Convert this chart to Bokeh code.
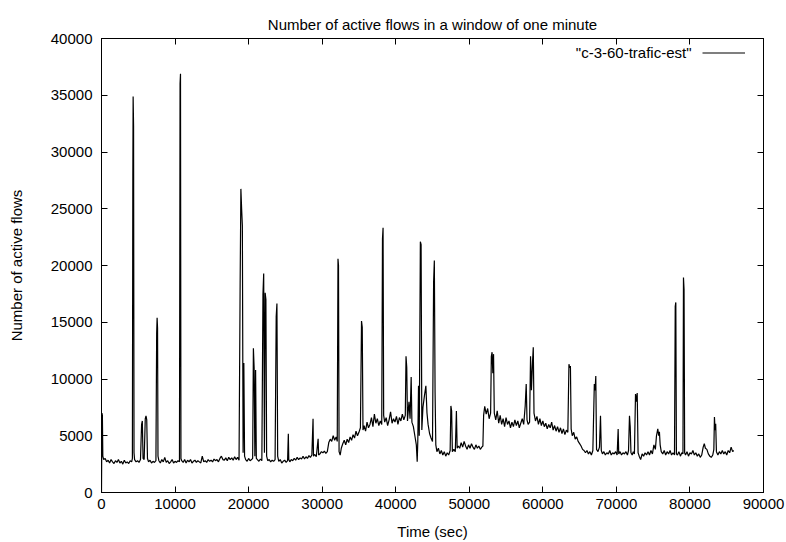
from bokeh.plotting import figure
from bokeh.models import (Range1d, LinearAxis, FixedTicker, NumeralTickFormatter,
                          Label, Legend, LegendItem, CustomLabelingPolicy)
from bokeh.embed import file_html
from bokeh.resources import INLINE

TITLE = "Number of active flows in a window of one minute"
X_LABEL = "Time (sec)"
Y_LABEL = "Number of active flows"
SERIES_NAME = '"c-3-60-trafic-est"'

x_ticks = [0, 10000, 20000, 30000, 40000, 50000, 60000, 70000, 80000, 90000]
y_ticks = [0, 5000, 10000, 15000, 20000, 25000, 30000, 35000, 40000]

time_sec = [
    0, 60, 120, 180, 300, 500, 700, 900, 1100, 1300, 1500, 1700, 1900, 2100, 2300, 2500, 2700, 2900, 3100, 3300, 3500, 3700, 3900, 4100,
    4200, 4260, 4300, 4360, 4420, 4500, 4700, 4900, 5100, 5300,
    5450, 5550, 5650, 5800, 5950, 6050, 6150, 6250, 6400, 6600, 6800, 7000, 7200, 7400,
    7500, 7560, 7620, 7680, 7800, 8000, 8200, 8400, 8600, 8800, 9000, 9200, 9400, 9600, 9800, 10000, 10200, 10400, 10600,
    10680, 10740, 10800, 10900, 11100, 11300, 11500, 11700, 11900, 12100, 12300, 12500, 12700, 12900, 13100, 13300, 13500, 13700, 13900, 14100, 14300, 14500, 14700, 14900, 15100, 15300, 15500, 15700, 15900, 16100, 16300, 16500, 16700, 16900, 17100, 17300, 17500, 17700, 17900, 18100, 18300, 18500, 18700,
    18850, 18950, 19050, 19150, 19250, 19350, 19450, 19600, 19800, 20000, 20200, 20400, 20550,
    20650, 20750, 20850, 20950, 21050, 21200, 21400, 21600, 21800,
    21950, 22050, 22150, 22250, 22350, 22450, 22600, 22800, 23000, 23200, 23400, 23600,
    23750, 23850, 23950, 24100, 24300, 24500, 24700, 24900, 25100, 25300, 25400, 25460, 25600, 25800, 26000, 26200, 26400, 26600, 26800, 27000, 27200, 27400, 27600, 27800, 28000, 28200, 28400, 28600, 28760, 28820, 29000, 29200, 29450, 29520, 29700, 29900, 30100, 30300, 30500, 30700, 30900, 31100, 31300, 31500, 31700, 31900, 32050,
    32150, 32220, 32300, 32450, 32600, 32800, 33000, 33200, 33400, 33600, 33800, 34000, 34200, 34400, 34600, 34800, 35000, 35200,
    35350, 35450, 35550, 35700, 35900, 36100, 36300, 36500, 36700, 36900, 37100, 37300, 37500, 37700, 37900, 38100,
    38200, 38280, 38360, 38500, 38700, 38900, 39100, 39300, 39500, 39700, 39900, 40100, 40300, 40500, 40700, 40900, 41100, 41300,
    41400, 41500, 41600, 41800, 41950, 42100, 42200, 42400, 42600, 42800, 42920, 43000, 43100, 43200, 43350, 43450, 43550, 43700, 43900, 44100, 44250, 44400, 44600, 44800, 45000,
    45150, 45250, 45350, 45450, 45600, 45800, 46000, 46200, 46400, 46600, 46800, 47000, 47200, 47400,
    47500, 47600, 47700, 47900, 48100, 48250, 48350, 48500, 48700, 48900, 49100, 49300, 49500, 49700, 49900, 50100, 50300, 50500, 50700, 50900, 51100, 51300, 51500, 51700, 51850, 51950, 52100, 52300, 52500, 52700, 52900,
    53000, 53100, 53200, 53300, 53400, 53600, 53800, 54000, 54200, 54400, 54600, 54800, 55000, 55200, 55400, 55600, 55800, 56000, 56200, 56400, 56600, 56800, 57000, 57200, 57400,
    57600, 57740, 57850, 58000, 58200, 58330, 58450, 58600, 58700, 58800, 59000, 59200, 59400, 59600, 59800, 60000, 60200, 60400, 60600, 60800, 61000, 61200, 61400, 61600, 61800, 62000, 62200, 62400, 62600, 62800, 63000, 63200, 63400,
    63550, 63650, 63750, 63850, 64000, 64200, 64400, 64600, 64800, 65000, 65200, 65400, 65600, 65800, 66000, 66200, 66400, 66600, 66800,
    67000, 67100, 67200, 67300, 67500, 67700, 67840, 67950, 68100, 68300, 68500, 68700, 68900, 69100, 69300, 69500, 69700, 69900, 70100, 70240, 70320, 70500, 70700, 70900, 71100, 71300, 71500, 71650,
    71780, 71880, 71980, 72150, 72300, 72450,
    72600, 72700, 72830, 72950, 73100, 73300, 73500, 73700, 73900, 74100, 74300, 74500, 74700, 74900, 75100, 75300, 75450, 75630, 75750, 75850, 75950, 76100, 76300, 76500, 76700, 76900, 77100, 77300, 77500, 77700, 77900,
    78000, 78080, 78160, 78300, 78500, 78700, 78900, 79050,
    79120, 79200, 79280, 79400, 79600, 79800, 80000, 80200, 80400, 80600, 80800, 81000, 81200, 81400, 81600, 81800, 81950, 82100, 82300, 82500, 82700, 82900, 83100, 83250,
    83330, 83420, 83500, 83600, 83800, 84000, 84200, 84400, 84600, 84800, 85000, 85200, 85400, 85600, 85800, 85960,
]

active_flows = [
    0, 7000, 6800, 3200, 2900, 3000, 2700, 2850, 2600, 2900, 2700, 2550, 2800, 2650, 2900, 2600, 2750, 2500, 2850, 2600, 2700, 2550, 2800, 2700,
    3000, 28000, 34900, 32300, 3500, 2900, 2700, 2800, 2650, 2900,
    6000, 6300, 3000, 2900, 6500, 6750, 6400, 3000, 2700, 2850, 2600, 2750, 2650, 2800,
    14000, 15400, 14500, 3200, 2800, 2600, 2900, 2700, 3100, 2650, 2800, 2550, 2700, 2900, 2600, 2750, 2650, 2800, 2700,
    36000, 36900, 3000, 2800, 2650, 2900, 2600, 2850, 2700, 2900, 2600, 2750, 2850, 2650, 2800, 2700, 2600, 3200, 2700, 2800, 2650, 2900, 2750, 2850, 2700, 2950, 2800, 2900, 2700, 3000, 3200, 2900, 2850, 3050, 2800, 3100, 2900, 3050, 2850, 3150, 2900, 3100, 2850,
    18600, 26750, 25000, 23500, 3500, 11400, 3200, 2900, 2750, 3000, 2800, 2900, 3000,
    12700, 11000, 3200, 10800, 3000, 2900, 2750, 2950, 2800,
    17450, 19290, 3500, 17600, 17000, 3200, 2800, 2900, 2700, 2850, 2750, 2900,
    15500, 16660, 3200, 2750, 2900, 2600, 2750, 2850, 2650, 2800, 5170, 2900, 2700, 2900, 2800, 3000, 2850, 3100, 2900, 3050, 2950, 3200, 2950, 3150, 3000, 3250, 3100, 3300, 6500, 3200, 3350, 3150, 4740, 3300, 3400, 3600, 3500, 3650, 3450, 3600, 4400, 4700, 4500, 5000, 4600, 4900, 4500,
    20600, 20000, 3600, 3300, 3900, 4300, 4600, 4200, 4700, 4400, 4900, 4600, 5100, 4800, 5400, 5000, 5300, 5700,
    15100, 14560, 5500, 5900, 5400, 6200, 5700, 6000, 6600, 5800, 6900, 6100, 6500, 5900, 6300, 6000,
    22360, 23330, 6800, 6200, 6600, 5900, 6400, 7100, 6100, 6500, 6200, 6700, 6000, 6600, 6300, 6900, 6400, 6800,
    12000, 11000, 6300, 8000, 6500, 10170, 6200, 5800, 5000, 4200, 2720, 4500, 9400, 5000, 22100, 21840, 5500, 7500, 8500, 9400, 7000, 6000, 5200, 4800, 4500,
    18500, 20430, 8860, 4200, 3600, 3900, 3400, 3700, 3300, 3600, 3200, 3500, 3300, 3700,
    7630, 7200, 3600, 3800, 3600, 7190, 3900, 4100, 3900, 4400, 4000, 4500, 4100, 3800, 4200, 3900, 4300, 4000, 3800, 4200, 3900, 4100, 3800, 4000, 4100, 6800, 7600, 6900, 7400, 6500, 7000,
    12000, 12360, 10500, 12190, 7000, 6400, 7200, 6100, 6800, 6000, 6500, 5800, 6600, 6000, 6300, 5700, 6200, 5800, 6400, 5900, 6300, 5700, 6100, 6500, 6000,
    7600, 9560, 6400, 6000, 6200, 12000, 9000, 11500, 12800, 7000, 6300, 6700, 6000, 6500, 5900, 6300, 5800, 6100, 5600, 6000, 5700, 6200, 5500, 5900, 5400, 5800, 5300, 5700, 5200, 5600, 5100, 5500, 5300,
    11300, 11000, 11140, 5600, 5000, 5300, 4700, 4900, 4500, 4300, 4100, 3800, 3700, 3500, 3700, 3400, 3600, 3300, 3700,
    9560, 9000, 10260, 3800, 3600, 4000, 6750, 3700, 3400, 3600, 3300, 3500, 3400, 3700, 3300, 3500, 3400, 3600, 3300, 5600, 3400, 3600, 3300, 3500, 3400, 3600, 3300, 3700,
    6750, 5800, 3500, 3300, 3600, 3400,
    8680, 8000, 8770, 3500, 3200, 2900, 3400, 3200, 3500, 3300, 3600, 3300, 3700, 3400, 4200, 3800, 5000, 5600, 5000, 5350, 4200, 3600, 3400, 3700, 3300, 3600, 3400, 3700, 3300, 3500, 3300,
    16400, 16750, 3400, 3300, 3600, 3200, 3500, 3400,
    18940, 17890, 3500, 3300, 3600, 3200, 3500, 3400, 3700, 3300, 3500, 3200, 3400, 3100, 3300, 4000, 4300, 3900, 3800, 3400, 3200, 3100, 3300, 3800,
    6660, 5500, 6050, 3600, 3300, 3600, 3400, 3700, 3400, 3600, 3300, 3700, 3500, 4000, 3600, 3700,
]

assert len(time_sec) == len(active_flows), (len(time_sec), len(active_flows))

FONT = "Liberation Sans"
FS = "15px"

p = figure(width=786, height=542,
           x_range=Range1d(0, 90000), y_range=Range1d(0, 40000),
           output_backend="svg", toolbar_location=None,
           min_border_left=101, min_border_right=23, min_border_top=38, min_border_bottom=48,
           title=TITLE)
p.background_fill_color = "white"
p.border_fill_color = "white"
p.xgrid.visible = False
p.ygrid.visible = False
p.outline_line_color = "black"
p.outline_line_alpha = 1.0
p.outline_line_width = 1

p.title.text_font = FONT
p.title.text_font_size = FS
p.title.text_font_style = "normal"
p.title.text_color = "black"
p.title.align = "center"
p.title.standoff = 12

p.xaxis.ticker = FixedTicker(ticks=x_ticks)
p.yaxis.ticker = FixedTicker(ticks=y_ticks)
p.xaxis.axis_label = X_LABEL
p.yaxis.axis_label = Y_LABEL
for ax in list(p.xaxis) + list(p.yaxis):
    ax.formatter = NumeralTickFormatter(format="0")
    ax.major_tick_in = 6
    ax.major_tick_out = 0
    ax.minor_tick_in = 0
    ax.minor_tick_out = 0
    ax.axis_line_color = "black"
    ax.major_tick_line_color = "black"
    ax.major_label_text_font = FONT
    ax.major_label_text_font_size = FS
    ax.major_label_text_color = "black"
    ax.axis_label_text_font = FONT
    ax.axis_label_text_font_size = FS
    ax.axis_label_text_font_style = "normal"
    ax.axis_label_text_color = "black"
p.yaxis.major_label_standoff = 9
p.yaxis.axis_label_standoff = 23
p.xaxis.major_label_standoff = 6
p.xaxis.axis_label_standoff = 11

hide_labels = CustomLabelingPolicy(code="""
    for (const i of indices) { indices.unset(i) }
    return indices
""")

def mirror_axis(ticks):
    return LinearAxis(ticker=FixedTicker(ticks=ticks), major_label_text_font_size="0px",
                      major_label_policy=hide_labels,
                      major_tick_in=6, major_tick_out=0, minor_tick_in=0, minor_tick_out=0,
                      major_label_standoff=0, axis_line_color="black", major_tick_line_color="black")

p.add_layout(mirror_axis(x_ticks), "above")
p.add_layout(mirror_axis(y_ticks), "right")

r = p.line(time_sec, active_flows, line_color="black", line_width=1.2)

legend = Legend(items=[LegendItem(label=" ", renderers=[r])], location="top_right",
                border_line_color=None, background_fill_alpha=0, margin=6, padding=5,
                label_standoff=12, label_width=0, glyph_width=43, glyph_height=17,
                label_text_font=FONT, label_text_font_size=FS, spacing=0)
p.add_layout(legend)

p.add_layout(Label(x=80210, y=38770, text=SERIES_NAME, text_align="right", text_baseline="middle",
                   text_font=FONT, text_font_size=FS, text_color="black"))

open("out.html", "w").write(file_html(p, INLINE))
